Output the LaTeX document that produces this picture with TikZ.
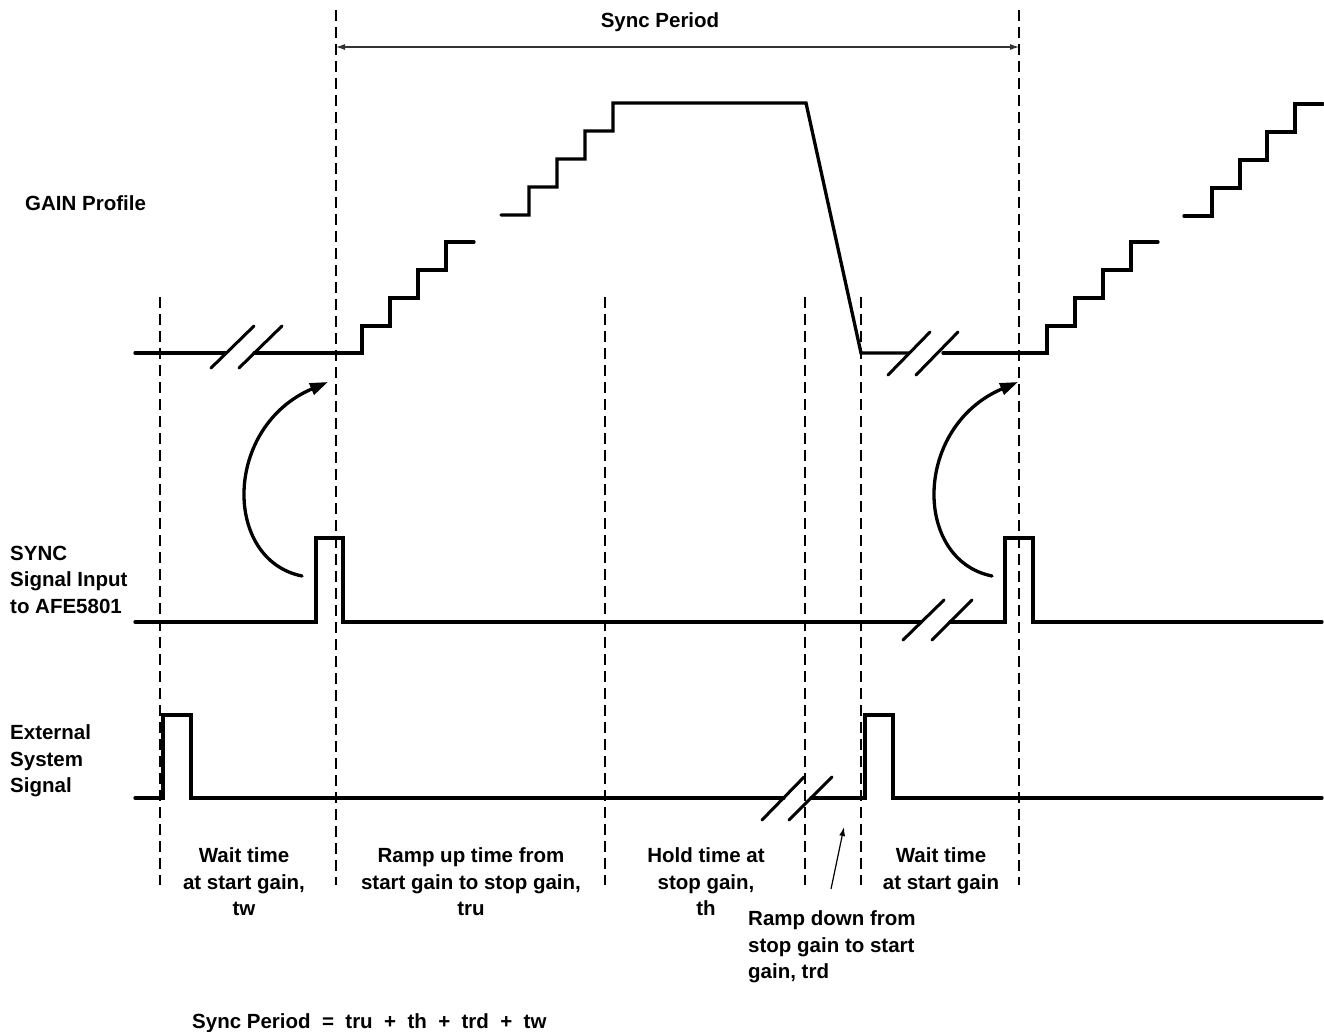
\documentclass[tikz,border=0pt]{standalone}
\usepackage{fontspec}
\setmainfont{Liberation Sans}
\usetikzlibrary{arrows.meta}
\begin{document}
\begin{tikzpicture}[x=1pt,y=-1pt,
  sig/.style={line width=3.3pt, line cap=round, line join=miter},
  brk/.style={line width=3pt, line cap=round},
  guide/.style={line width=2.4pt, dash pattern=on 11pt off 6pt},
  lbl/.style={font=\fontsize{20.5}{26.5}\selectfont\bfseries, inner sep=0pt},
  bigarrow/.style={line width=3.3pt, line cap=round, -{Triangle[length=18pt,width=12pt]}},
  thinarrow/.style={line width=1.2pt, -{Latex[length=9pt,width=6pt]}},
  dimarrow/.style={line width=1.1pt, draw=black!80, {Latex[length=9pt,width=6pt]}-{Latex[length=9pt,width=6pt]}}
]
\fill[white] (0,0) rectangle (1324,1032);
\useasboundingbox (0,0) rectangle (1324,1032);

% vertical guide lines
\draw[guide] (160,297) -- (160,885);
\draw[guide] (336,10) -- (336,885);
\draw[guide] (605,297) -- (605,885);
\draw[guide] (805,297) -- (805,885);
\draw[guide] (861,297) -- (861,885);
\draw[guide] (1019,10) -- (1019,885);

% sync period dimension
\coordinate (spL) at (336,47);
\coordinate (spR) at (1019,47);
\draw[dimarrow] (spL) -- (spR);
\node[lbl, anchor=base] (sptitle) at (660,27.5) {Sync Period};

% GAIN profile
\draw[sig] (135,353) -- (226,353);
\draw[sig] (254,353) -- (362,353) -- (362,326) -- (390,326) -- (390,298) -- (418,298)
  -- (418,270) -- (446,270) -- (446,242) -- (474,242);
\draw[sig] (501,215) -- (529,215) -- (529,187) -- (557,187) -- (557,159) -- (585,159)
  -- (585,131) -- (613,131) -- (613,103) -- (806,103) -- (861,353) -- (909,353);
\draw[sig] (943,353) -- (1047,353) -- (1047,326) -- (1075,326) -- (1075,298) -- (1103,298)
  -- (1103,270) -- (1131,270) -- (1131,242) -- (1158,242);
\draw[sig] (1184,216) -- (1212,216) -- (1212,188) -- (1240,188) -- (1240,160) -- (1267,160)
  -- (1267,132) -- (1295,132) -- (1295,104) -- (1323,104);
\draw[brk] (211,368) -- (254,326);
\draw[brk] (239,368) -- (282,326);
\draw[brk] (888,375) -- (930,332);
\draw[brk] (916,375) -- (958,332);

% SYNC signal
\draw[sig] (135,622) -- (316,622) -- (316,538) -- (343,538) -- (343,622) -- (921,622);
\draw[sig] (950,622) -- (1005,622) -- (1005,538) -- (1033,538) -- (1033,622) -- (1322,622);
\draw[brk] (903,640) -- (944,600);
\draw[brk] (932,640) -- (972,600);

% External system signal
\draw[sig] (135,798) -- (163,798) -- (163,715) -- (191,715) -- (191,798) -- (784,798);
\draw[sig] (811,798) -- (865,798) -- (865,715) -- (893,715) -- (893,798) -- (1322,798);
\draw[brk] (762,820) -- (804,777);
\draw[brk] (789,820) -- (832,777);

% curved arrows
\coordinate (la0) at (302,576);
\coordinate (la1) at (328,382);
\draw[bigarrow] (la0) .. controls (223,560) and (223,427) .. (la1);
\coordinate (ra0) at (992,576);
\coordinate (ra1) at (1018,382);
\draw[bigarrow] (ra0) .. controls (913,560) and (913,427) .. (ra1);

% ramp-down pointer
\coordinate (rd0) at (831,889);
\coordinate (rd1) at (844,827);
\draw[thinarrow] (rd0) -- (rd1);

% labels
\node[lbl, anchor=base west] (gain) at (25,210.5) {GAIN Profile};
\node[lbl, anchor=north west, align=left] (sync) at (10,545.5) {SYNC\\Signal Input\\to AFE5801};
\node[lbl, anchor=north west, align=left] (ext) at (10,724.5) {External\\System\\Signal};

\node[lbl, anchor=north, align=center] (tw1) at (244,847.5) {Wait time\\at start gain,\\tw};
\node[lbl, anchor=north, align=center] (tru) at (471,847.5) {Ramp up time from\\start gain to stop gain,\\tru};
\node[lbl, anchor=north, align=center] (th) at (706,847.5) {Hold time at\\stop gain,\\th};
\node[lbl, anchor=north, align=center] (tw2) at (941,847.5) {Wait time\\at start gain};
\node[lbl, anchor=north west, align=left] (trd) at (748,910.5) {Ramp down from\\stop gain to start\\gain, trd};

\node[lbl, anchor=base west] (formula) at (192,1028) {Sync Period\ \ =\ \ tru\ \ +\ \ th\ \ +\ \ trd\ \ +\ \ tw};
\end{tikzpicture}
\end{document}
